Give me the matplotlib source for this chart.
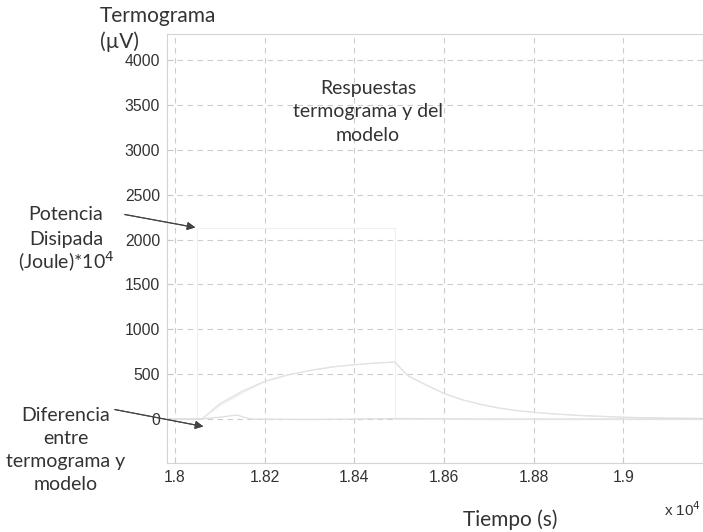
import numpy as np
import matplotlib.pyplot as plt

# time in units of 1e4 s
t_termo = [1.798, 1.806, 1.810, 1.815, 1.820, 1.825, 1.830, 1.835, 1.840, 1.845,
           1.849, 1.852, 1.856, 1.860, 1.864, 1.868, 1.872, 1.876, 1.880, 1.885,
           1.890, 1.895, 1.900, 1.905, 1.910, 1.918]
termograma = [0, 0, 170, 310, 420, 490, 540, 580, 605, 625,
              635, 480, 380, 285, 215, 165, 125, 95, 75, 55,
              40, 30, 20, 14, 10, 6]
modelo = [0, 0, 150, 290, 415, 488, 540, 580, 605, 625,
          632, 478, 378, 284, 214, 164, 124, 95, 75, 55,
          40, 30, 20, 14, 10, 6]

t_pot = [1.798, 1.805, 1.805, 1.849, 1.849, 1.918]
potencia = [0, 0, 2130, 2130, 0, 0]

t_dif = [1.798, 1.8055, 1.810, 1.8138, 1.8167, 1.830, 1.850, 1.870, 1.890, 1.918]
diferencia = [0, 0, 20, 45, 0, -5, 5, 0, 0, 0]

xticks = [1.8, 1.82, 1.84, 1.86, 1.88, 1.9]
xlabels = ['1.8', '1.82', '1.84', '1.86', '1.88', '1.9']
yticks = [0, 500, 1000, 1500, 2000, 2500, 3000, 3500, 4000]

W, H = 703, 532
fig = plt.figure(figsize=(W / 100, H / 100), dpi=100)
ax = fig.add_axes([167 / W, 1 - 463 / H, (W - 167) / W, (463 - 34) / H])

# the scanned curves are very faint
ax.plot(t_pot, potencia, color='#f0f0f0', lw=0.8)
ax.plot(t_termo, modelo, color='#ececec', lw=0.8)
ax.plot(t_termo, termograma, color='#e2e2e2', lw=0.9)
ax.plot(t_dif, diferencia, color='#dddddd', lw=0.9)

ax.set_xlim(1.79822, 1.91773)
ax.set_ylim(-490, 4290)
ax.set_xticks(xticks)
ax.set_xticklabels(xlabels)
ax.set_yticks(yticks)
ax.grid(True, color='#cdcdcd', linestyle=(0, (5, 4)), lw=0.8)
for s in ax.spines.values():
    s.set_color('#d4d4d4')
    s.set_linewidth(0.8)
ax.tick_params(direction='in', length=4, color='#c8c8c8', labelcolor='#333333',
               labelsize=11.3, pad=5)
for lab in ax.get_xticklabels() + ax.get_yticklabels():
    lab.set_family('Liberation Sans')

txt = dict(family='Lato', color='#333333', fontsize=14, linespacing=1.45)
fig.text(100 / W, 1 - 16 / H, 'Termograma', ha='left', va='center',
         family='Lato', color='#333333', fontsize=15)
fig.text(100 / W, 1 - 42 / H, '(µV)', ha='left', va='center',
         family='Lato', color='#333333', fontsize=15)
fig.text(368 / W, 1 - 112 / H, 'Respuestas\ntermograma y del\nmodelo',
         ha='center', va='center', **txt)
for line, yy in zip(['Potencia', 'Disipada', '(Joule)*10$^4$'], [215, 239, 262]):
    fig.text(66 / W, 1 - yy / H, line, ha='center', va='center',
             family='Lato', color='#333333', fontsize=14)
fig.text(66 / W, 1 - 450 / H, 'Diferencia\nentre\ntermograma y\nmodelo',
         ha='center', va='center', **txt)
fig.text(510 / W, 1 - 520 / H, 'Tiempo (s)', ha='center', va='center',
         family='Lato', color='#333333', fontsize=15)
fig.text(664 / W, 1 - 510 / H, 'x 10$^4$', ha='left', va='center',
         family='Liberation Sans', color='#333333', fontsize=11)

arrow = dict(arrowstyle='-|>', color='#444444', lw=0.8, mutation_scale=12)
fig.add_artist(plt.annotate('', xy=(198 / W, 1 - 228 / H), xytext=(122 / W, 1 - 214 / H),
                            xycoords='figure fraction', arrowprops=arrow))
fig.add_artist(plt.annotate('', xy=(206 / W, 1 - 427 / H), xytext=(112 / W, 1 - 409 / H),
                            xycoords='figure fraction', arrowprops=arrow))

fig.savefig('out.png', dpi=100)
